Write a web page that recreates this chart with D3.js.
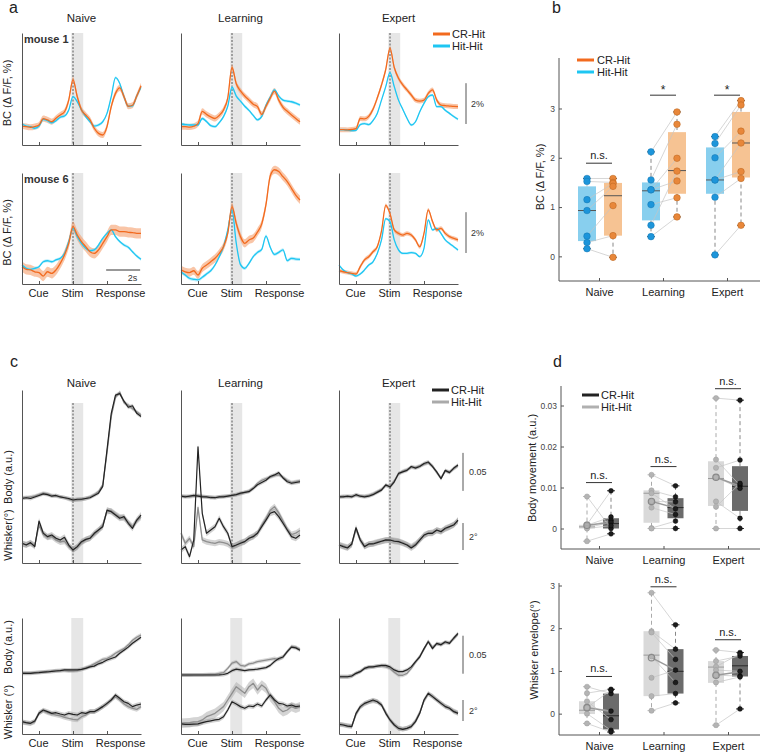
<!DOCTYPE html>
<html>
<head>
<meta charset="utf-8">
<script src="https://cdn.jsdelivr.net/npm/d3@7"></script>
<style>
  body { margin: 0; background: #fff; }
</style>
</head>
<body>
<svg id="fig" width="764" height="752"></svg>
<script>
// ---- shared categories ----
const times = [0,0.25,0.5,0.75,1,1.25,1.5,1.75,2,2.25,2.5,2.75,3,3.25,3.5,3.75,4,4.25,4.5,4.75,5,5.25,5.5,5.75,6,6.25,6.5,6.75,7];
const stages = ["Naive", "Learning", "Expert"];
const eventTimes = [1, 3, 5];
const eventLabels = ["Cue", "Stim", "Response"];
const stimWindow = [2.9, 3.6];

// ---- a: BC dF/F (%) traces, mouse 1 / mouse 6 ----
const bcM1NaiveCR  = [0.93,0.90,0.87,0.90,0.98,1.29,1.23,1.14,1.31,1.47,1.63,2.20,3.19,2.37,1.72,1.47,1.23,0.82,0.57,0.49,0.90,1.88,2.53,2.80,2.37,1.90,1.95,2.40,2.90];
const bcM1NaiveHit = [1.03,0.93,0.90,0.82,0.93,1.26,1.19,1.09,1.19,1.36,1.42,1.72,2.37,2.12,1.72,1.39,1.14,0.93,0.98,1.14,1.55,2.37,3.30,3.02,2.37,1.90,1.92,2.40,2.83];
const bcM1LearnCR  = [0.90,0.90,0.88,0.92,1.05,1.65,1.50,1.38,1.30,1.45,1.72,2.30,3.80,3.00,2.65,2.40,2.20,2.00,1.88,1.50,1.90,2.30,2.64,2.20,1.85,1.65,1.47,1.30,1.14];
const bcM1LearnHit = [1.03,1.00,0.98,0.98,0.98,1.30,1.15,0.95,0.90,1.10,1.39,1.90,2.83,2.40,2.15,1.90,1.70,1.45,1.23,1.40,1.95,2.35,2.70,2.40,2.20,2.15,2.12,2.05,1.96];
const bcM1ExpCR    = [0.75,0.75,0.74,0.76,0.80,1.30,1.28,1.40,1.75,2.30,2.94,3.70,4.74,3.80,3.27,2.95,2.70,2.45,2.20,2.15,2.20,2.53,2.70,2.20,1.96,1.93,1.91,1.89,1.88];
const bcM1ExpHit   = [0.75,0.75,0.73,0.70,0.72,1.00,1.05,1.00,1.20,1.55,2.20,2.86,3.55,2.86,2.20,1.75,1.31,0.98,1.14,1.63,2.04,2.37,2.45,1.88,1.88,1.70,1.55,1.40,1.26];
const bcM6NaiveCR  = [0.85,0.72,0.69,0.60,0.56,0.39,0.60,0.52,0.69,1.01,1.42,1.99,2.81,2.40,2.08,1.83,1.58,1.50,1.67,1.99,2.32,2.65,2.65,2.57,2.57,2.53,2.52,2.48,2.48];
const bcM6NaiveHit = [0.93,0.77,0.72,0.77,0.85,1.09,1.14,1.09,1.18,1.26,1.50,2.08,2.73,2.32,1.99,1.75,1.63,1.67,1.91,2.24,2.48,2.65,2.32,2.08,1.91,1.80,1.58,1.37,1.21];
const bcM6LearnCR  = [0.69,0.60,0.56,0.65,0.44,0.77,0.93,1.09,1.26,1.50,1.83,2.48,3.79,2.97,2.32,1.99,2.16,2.25,2.55,2.95,3.90,5.30,5.60,5.51,5.26,5.02,4.69,4.36,4.12];
const bcM6LearnHit = [0.60,0.44,0.28,0.23,0.20,0.33,0.49,0.65,0.93,1.34,1.83,2.65,3.63,2.00,0.95,0.77,1.01,1.34,1.55,1.70,2.35,1.80,1.45,1.55,1.67,1.15,1.26,1.22,1.21];
const bcM6ExpCR    = [0.65,0.60,0.56,0.52,0.49,0.85,1.18,1.34,1.58,1.83,2.60,3.85,3.45,2.65,2.48,2.40,2.48,2.40,2.16,1.83,2.48,3.63,3.06,2.65,2.73,2.48,2.32,2.24,2.16];
const bcM6ExpHit   = [0.93,0.69,0.56,0.49,0.39,0.49,0.69,0.93,1.09,1.50,2.16,3.20,3.06,2.16,1.67,1.50,1.50,1.54,1.50,1.34,1.75,3.14,2.65,2.73,2.48,2.16,1.99,1.83,1.67];
const bcSemCR  = [[0.15,0.15,0.12],[0.25,0.2,0.1]];
const bcSemHit = [[0.07,0.07,0.06],[0.07,0.08,0.06]];

// ---- b: BC per mouse ----
const bcHitNaive = [1.58,1.52,1.15,0.93,0.41,0.28,0.155];
const bcCRNaive  = [1.58,1.50,1.48,1.42,1.03,0.42,-0.02];
const bcHitLearn = [2.12,1.55,1.35,1.35,1.05,0.63,0.40];
const bcCRLearn  = [2.93,2.68,1.99,1.53,1.19,1.73,0.80];
const bcHitExp   = [2.43,2.29,2.00,1.55,1.55,1.20,0.03];
const bcCRExp    = [3.16,3.07,2.54,2.30,1.72,1.58,0.63];
const bcBoxHit = [[0.31,0.93,1.42],[0.73,1.33,1.50],[1.27,1.55,2.21]];   // q1, median, q3
const bcBoxCR  = [[0.42,1.23,1.49],[1.27,1.74,2.52],[1.60,2.30,2.93]];
const bcSig = ["n.s.", "*", "*"];
const bcSigLevel = [1.89, 3.27, 3.27];

// ---- c: body (a.u.) and whisker (deg) traces ----
const cNaiveBodyCR   = [0.002,0.003,0.002,0.004,0.006,0.008,0.007,0.005,0.006,0.004,0.003,0.002,0.000,0.001,0.001,0.002,0.003,0.006,0.009,0.018,0.066,0.114,0.138,0.140,0.130,0.122,0.124,0.114,0.110];
const cNaiveBodyHit  = [0.003,0.003,0.004,0.005,0.007,0.009,0.008,0.006,0.005,0.004,0.003,0.001,0.000,0.000,0.001,0.002,0.004,0.007,0.011,0.020,0.062,0.110,0.135,0.142,0.128,0.125,0.120,0.116,0.112];
const cNaiveWhiskCR  = [0.35,0.22,0.40,0.10,2.00,1.10,0.84,0.96,0.72,0.59,0.79,0.22,-0.15,0.10,0.47,0.64,0.72,1.09,1.33,1.58,2.81,2.69,2.44,2.20,2.32,1.83,1.46,2.07,2.44];
const cNaiveWhiskHit = [0.30,0.25,0.35,0.20,1.70,1.00,0.80,0.85,0.60,0.45,0.50,0.10,-0.10,0.05,0.40,0.60,0.75,1.00,1.30,1.70,2.70,2.75,2.50,2.30,2.20,1.90,1.60,2.00,2.30];
const cLearnBodyCR   = [0.005,0.004,0.005,0.006,0.005,0.004,0.004,0.003,0.003,0.004,0.004,0.005,0.006,0.007,0.009,0.010,0.011,0.015,0.020,0.023,0.026,0.031,0.033,0.036,0.029,0.024,0.022,0.023,0.024];
const cLearnBodyHit  = [0.005,0.005,0.004,0.005,0.006,0.005,0.004,0.004,0.003,0.004,0.005,0.005,0.006,0.007,0.008,0.010,0.012,0.016,0.022,0.026,0.028,0.030,0.032,0.033,0.030,0.026,0.023,0.024,0.025];
const cLearnWhiskCR  = [-0.15,0.10,-0.64,0.59,7.50,2.57,1.09,1.33,1.58,2.20,1.58,1.09,0.10,0.22,0.35,0.47,0.72,0.84,1.09,1.58,2.07,2.57,2.69,2.32,1.83,1.33,0.84,0.72,0.96];
const cLearnWhiskHit = [1.09,0.35,0.70,0.10,3.00,0.60,0.47,0.40,0.35,0.45,0.40,0.30,0.05,0.20,0.40,0.50,0.70,0.90,1.10,1.70,2.20,2.80,3.06,2.60,2.00,1.40,1.00,1.10,1.30];
const cExpBodyCR     = [0.004,0.004,0.005,0.004,0.007,0.005,0.004,0.005,0.007,0.010,0.013,0.020,0.017,0.024,0.035,0.037,0.039,0.044,0.042,0.044,0.048,0.050,0.044,0.037,0.028,0.039,0.036,0.042,0.046];
const cExpBodyHit    = [0.004,0.005,0.004,0.005,0.006,0.005,0.005,0.006,0.008,0.011,0.014,0.019,0.018,0.025,0.034,0.038,0.040,0.043,0.043,0.045,0.047,0.049,0.045,0.036,0.029,0.038,0.037,0.041,0.045];
const cExpWhiskCR    = [0.22,0.10,0.00,0.30,1.50,0.59,0.10,0.30,0.30,0.40,0.50,0.60,0.59,0.50,0.47,0.35,0.22,0.00,0.22,0.59,0.96,1.09,1.09,1.33,1.20,1.46,1.58,1.70,2.07];
const cExpWhiskHit   = [0.25,0.15,0.05,0.25,1.40,0.60,0.15,0.25,0.35,0.45,0.50,0.55,0.60,0.55,0.50,0.40,0.25,0.10,0.30,0.60,0.90,1.10,1.15,1.30,1.25,1.40,1.55,1.75,2.00];

const cNaiveBody2CR   = [0.0035,0.0035,0.0035,0.004,0.0044,0.005,0.0053,0.006,0.0066,0.007,0.008,0.008,0.008,0.008,0.0088,0.010,0.012,0.013,0.016,0.018,0.021,0.023,0.025,0.030,0.034,0.038,0.043,0.047,0.051];
const cNaiveBody2Hit  = [0.0044,0.004,0.004,0.0045,0.005,0.005,0.006,0.006,0.007,0.007,0.007,0.0066,0.0066,0.007,0.0088,0.011,0.013,0.016,0.019,0.022,0.023,0.026,0.030,0.033,0.036,0.041,0.047,0.051,0.054];
const cNaiveWhisk2CR  = [0.32,0.22,0.16,0.38,1.11,1.43,1.27,1.11,1.17,1.05,0.95,1.11,1.02,0.95,1.17,1.11,1.27,1.27,1.49,1.75,2.06,2.38,2.86,2.54,2.22,2.06,1.75,1.90,2.00];
const cNaiveWhisk2Hit = [0.25,0.20,0.16,0.30,1.17,1.36,1.17,1.05,0.95,0.86,0.73,0.63,0.54,0.48,0.79,0.95,1.27,1.27,1.49,1.75,2.00,2.38,2.70,2.38,2.00,1.75,1.59,1.49,1.75];
const cLearnBody2CR   = [0.0013,0.0013,0.0013,0.0013,0.0013,0.0013,0.0013,0.0013,0.0013,0.0015,0.002,0.0035,0.007,0.009,0.008,0.007,0.008,0.0085,0.009,0.010,0.011,0.014,0.019,0.023,0.025,0.032,0.038,0.037,0.034];
const cLearnBody2Hit  = [0.0013,0.0013,0.0013,0.0015,0.0015,0.0016,0.0018,0.002,0.0022,0.0035,0.0044,0.010,0.017,0.019,0.014,0.013,0.016,0.017,0.019,0.020,0.021,0.022,0.023,0.022,0.025,0.032,0.039,0.038,0.035];
const cLearnWhisk2CR  = [0.10,0.06,0.06,0.08,0.10,0.22,0.32,0.40,0.48,0.54,0.79,1.43,2.22,2.00,1.75,1.59,1.81,1.75,2.00,1.81,2.38,2.86,2.38,2.06,2.00,1.81,1.90,1.75,1.81];
const cLearnWhisk2Hit = [0.16,0.20,0.22,0.30,0.32,0.48,0.79,0.95,1.11,1.43,1.75,2.38,3.02,3.65,3.33,3.02,3.65,3.97,3.33,3.81,3.49,2.70,2.22,1.59,1.27,1.43,1.75,1.59,1.75];
const cExpBody2CR     = [-0.001,-0.001,-0.001,0.000,0.0035,0.0057,0.010,0.012,0.012,0.013,0.014,0.014,0.012,0.008,0.0057,0.0057,0.008,0.012,0.019,0.025,0.036,0.045,0.036,0.043,0.041,0.045,0.043,0.050,0.056];
const cExpBody2Hit    = [-0.001,-0.001,-0.001,0.000,0.0035,0.006,0.010,0.011,0.012,0.013,0.013,0.012,0.010,0.005,0.001,0.001,0.0035,0.010,0.018,0.026,0.035,0.046,0.038,0.042,0.042,0.044,0.044,0.049,0.055];
const cExpWhisk2CR    = [0.06,0.00,-0.10,-0.16,1.11,1.75,2.06,2.22,2.38,2.22,1.90,1.11,0.48,0.00,-0.32,-0.41,-0.32,-0.16,0.32,1.11,2.38,3.02,2.70,2.38,2.06,1.75,1.59,1.27,1.11];
const cExpWhisk2Hit   = [0.10,0.03,-0.05,-0.10,1.00,1.70,2.00,2.20,2.30,2.25,1.95,1.20,0.50,0.05,-0.30,-0.38,-0.30,-0.10,0.40,1.20,2.30,2.95,2.75,2.40,2.10,1.80,1.60,1.35,1.15];

// ---- d: body movement / whisker envelope per mouse ----
const bodyHitNaive = [0.0078,0.0010,0.0008,0.0006,0.0002,0.0000,-0.0031];
const bodyCRNaive  = [0.0000,0.0092,0.0028,0.0020,0.0015,0.0007,-0.0013];
const bodyHitLearn = [0.0131,0.0093,0.0086,0.0066,0.0051,0.0001,0.0000];
const bodyCRLearn  = [0.0104,0.0077,0.0048,0.0065,0.0034,0.0018,0.0000];
const bodyHitExp   = [0.0318,0.0168,0.0148,0.0125,0.0066,0.0053,0.0000];
const bodyCRExp    = [0.0313,0.0105,0.0167,0.0098,0.0025,0.0110,0.0000];
const bodyBoxHit = [[0.0000,0.0004,0.0009],[0.0014,0.0086,0.0093],[0.0055,0.0122,0.0164]];
const bodyBoxCR  = [[0.0000,0.0012,0.0025],[0.0025,0.0051,0.0074],[0.0043,0.0103,0.0152]];
const bodyMeanHit = [0.0008,0.0066,0.0125];
const bodyMeanCR  = [0.0015,0.0050,0.0103];
const bodySig = ["n.s.", "n.s.", "n.s."];
const bodySigLevel = [0.0112, 0.0151, 0.0341];

const whiskHitNaive = [0.63,0.48,0.29,0.16,0.14,0.00,-0.23];
const whiskCRNaive  = [0.47,0.57,-0.14,0.06,0.55,-0.39,-0.43];
const whiskHitLearn = [2.83,1.93,1.90,1.34,0.84,0.41,0.07];
const whiskCRLearn  = [2.08,1.51,1.27,0.73,1.02,0.47,0.25];
const whiskHitExp   = [1.49,1.23,1.10,1.02,0.90,0.73,-0.27];
const whiskCRExp    = [1.43,1.35,1.40,0.99,0.88,0.86,0.11];
const whiskBoxHit = [[-0.01,0.08,0.29],[0.41,1.37,1.93],[0.72,1.09,1.23]];
const whiskBoxCR  = [[-0.37,-0.05,0.47],[0.47,0.99,1.51],[0.87,1.12,1.35]];
const whiskMeanHit = [0.14,1.31,0.90];
const whiskMeanCR  = [0.05,1.02,0.98];
const whiskSig = ["n.s.", "n.s.", "n.s."];
const whiskSigLevel = [0.87, 2.97, 1.73];

// ---- drawing ----
const FONT = '"Liberation Sans", Arial, Helvetica, sans-serif';
const AX = "#555";
const ORANGE = "#f26a1e", CYAN = "#1ec6f2";
const DARK = "#222", GREY = "#8e8e8e";
const svg = d3.select("#fig").attr("font-family", FONT);

const COLX = [22, 181, 339];
const PW = 119;
const tScale = c => d3.scaleLinear().domain([0, 7]).range([COLX[c], COLX[c] + PW]);

function txt(x, y, s, size, opts) {
  opts = opts || {};
  const t = svg.append("text").attr("x", x).attr("y", y).text(s)
    .attr("font-size", size).attr("fill", opts.fill || "#222")
    .attr("text-anchor", opts.anchor || "start");
  if (opts.bold) t.attr("font-weight", "bold");
  if (opts.rotate) t.attr("transform", `rotate(-90,${x},${y})`);
  return t;
}

function styleAxis(a) {
  a.attr("font-family", FONT);
  a.select(".domain").attr("stroke", AX);
  a.selectAll(".tick line").attr("stroke", AX);
  a.selectAll(".tick text").attr("fill", "#222");
}

function eventAxes(c, top, bottom, labels) {
  const x = tScale(c);
  const ax = d3.axisBottom(x).tickValues(eventTimes).tickSize(-3).tickSizeOuter(0).tickPadding(5)
    .tickFormat((d, i) => labels ? eventLabels[i] : "");
  const a = svg.append("g").attr("transform", `translate(0,${bottom})`).call(ax);
  styleAxis(a);
  // "Response" label sits to the right of its tick in the original
  a.selectAll(".tick text").attr("font-size", 11).attr("dx", (d, i) => i === 2 ? 13 : -1);
  const yl = d3.scaleLinear().range([bottom, top]);
  const b = svg.append("g").attr("transform", `translate(${COLX[c]},0)`)
    .call(d3.axisLeft(yl).tickValues([]).tickSizeOuter(0));
  styleAxis(b);
}

function stimMarks(c, shadeTop, bottom, dashTop) {
  const x = tScale(c);
  svg.append("rect").attr("x", x(stimWindow[0])).attr("y", shadeTop)
    .attr("width", x(stimWindow[1]) - x(stimWindow[0])).attr("height", bottom - shadeTop)
    .attr("fill", "#e6e6e6");
  if (dashTop !== null) {
    svg.append("line").attr("x1", x(3)).attr("x2", x(3)).attr("y1", dashTop).attr("y2", bottom)
      .attr("stroke", "#333").attr("stroke-width", 0.8).attr("stroke-dasharray", "2,1.5");
  }
}

function trace(x, y, vals, sem, band, curve) {
  const pts = times.map((t, i) => [t, vals[i]]);
  svg.append("path").datum(pts).attr("fill", band)
    .attr("d", d3.area().x(d => x(d[0])).y0(d => y(d[1] - sem)).y1(d => y(d[1] + sem)).curve(curve));
  return pts;
}
function traceLine(x, y, pts, color, w, curve) {
  svg.append("path").datum(pts).attr("fill", "none").attr("stroke", color).attr("stroke-width", w)
    .attr("stroke-linejoin", "round")
    .attr("d", d3.line().x(d => x(d[0])).y(d => y(d[1])).curve(curve));
}

// panel letters
txt(9, 13, "a", 16);
txt(552, 13, "b", 16);
txt(10, 367, "c", 16);
txt(553, 367, "d", 16);

// ----- panel a -----
const bcRows = [
  { label: "mouse 1", top: 33, bottom: 145, cr: [bcM1NaiveCR, bcM1LearnCR, bcM1ExpCR], hit: [bcM1NaiveHit, bcM1LearnHit, bcM1ExpHit] },
  { label: "mouse 6", top: 173, bottom: 284, cr: [bcM6NaiveCR, bcM6LearnCR, bcM6ExpCR], hit: [bcM6NaiveHit, bcM6LearnHit, bcM6ExpHit] }
];
stages.forEach((s, c) => txt(COLX[c] + PW / 2, 22, s, 11.5, { anchor: "middle" }));
bcRows.forEach((row, r) => {
  const y = d3.scaleLinear().domain([0, 5.5]).range([row.bottom, row.bottom - 112.2]);
  stages.forEach((s, c) => {
    const x = tScale(c);
    stimMarks(c, row.top, row.bottom, row.top);
    const pc = trace(x, y, row.cr[c], bcSemCR[r][c], "rgba(244,150,95,0.55)", d3.curveMonotoneX);
    const ph = trace(x, y, row.hit[c], bcSemHit[r][c], "rgba(140,225,248,0.6)", d3.curveMonotoneX);
    traceLine(x, y, ph, CYAN, 1.3, d3.curveMonotoneX);
    traceLine(x, y, pc, ORANGE, 1.3, d3.curveMonotoneX);
    eventAxes(c, row.top, row.bottom, r === 1);
  });
  txt(24, row.top + 10, row.label, 11, { bold: true, fill: "#333" });
  txt(11, (row.top + row.bottom) / 2 + 4, "BC (\u0394 F/F, %)", 11, { anchor: "middle", rotate: true });
  // 2% scale bar
  svg.append("line").attr("x1", 466).attr("x2", 466)
    .attr("y1", y(r === 0 ? 1.03 : 1.52)).attr("y2", y(r === 0 ? 3.03 : 3.52))
    .attr("stroke", AX).attr("stroke-width", 1);
  txt(471, y(r === 0 ? 2.03 : 2.52) + 3, "2%", 9, { fill: "#333" });
});
// 2s scale bar (mouse 6 naive)
{
  const x = tScale(0);
  svg.append("line").attr("x1", x(4.95)).attr("x2", x(6.95)).attr("y1", 270).attr("y2", 270)
    .attr("stroke", "#333").attr("stroke-width", 1);
  txt(x(6.5), 281, "2s", 9, { anchor: "middle", fill: "#333" });
}
// legend a
[["CR-Hit", ORANGE, 34], ["Hit-Hit", CYAN, 46]].forEach(([lab, col, yy]) => {
  svg.append("line").attr("x1", 433).attr("x2", 450).attr("y1", yy).attr("y2", yy)
    .attr("stroke", col).attr("stroke-width", 3);
  txt(452, yy + 4, lab, 11);
});

// ----- paired box plot helper (panels b, d) -----
function boxplot(xc, y, vals, stats, o) {
  const [q1, med, q3] = stats;
  const [lo, hi] = d3.extent(vals);
  [[hi, q3], [q1, lo]].forEach(([a, b]) => {
    svg.append("line").attr("x1", xc).attr("x2", xc).attr("y1", y(a)).attr("y2", y(b))
      .attr("stroke", o.whisk).attr("stroke-width", 1).attr("stroke-dasharray", "4,3");
  });
  [lo, hi].forEach(v => svg.append("line").attr("x1", xc - 4).attr("x2", xc + 4)
    .attr("y1", y(v)).attr("y2", y(v)).attr("stroke", o.cap).attr("stroke-width", 1));
  svg.append("rect").attr("x", xc - o.w / 2).attr("y", y(q3)).attr("width", o.w)
    .attr("height", y(q1) - y(q3)).attr("fill", o.fill);
  svg.append("line").attr("x1", xc - o.w / 2).attr("x2", xc + o.w / 2).attr("y1", y(med)).attr("y2", y(med))
    .attr("stroke", o.med).attr("stroke-width", 1);
}

function pairedPanel(cfg) {
  const { x, y, left, right, leftBox, rightBox, offL, offR, sL, sR, sig, sigLevel } = cfg;
  stages.forEach((s, i) => {
    const xl = x(s) + offL, xr = x(s) + offR;
    boxplot(xl, y, left[i], leftBox[i], sL);
    boxplot(xr, y, right[i], rightBox[i], sR);
    left[i].forEach((v, k) => {
      svg.append("line").attr("x1", xl).attr("x2", xr).attr("y1", y(v)).attr("y2", y(right[i][k]))
        .attr("stroke", "#c4c4c4").attr("stroke-width", 0.7);
    });
    if (cfg.meanL) {
      svg.append("line").attr("x1", xl).attr("x2", xr).attr("y1", y(cfg.meanL[i])).attr("y2", y(cfg.meanR[i]))
        .attr("stroke", "#9a9a9a").attr("stroke-width", 1.4);
    }
    left[i].forEach(v => svg.append("circle").attr("cx", xl).attr("cy", y(v)).attr("r", sL.r)
      .attr("fill", sL.pt).attr("stroke", sL.ptStroke).attr("stroke-width", 0.5));
    right[i].forEach(v => svg.append("circle").attr("cx", xr).attr("cy", y(v)).attr("r", sR.r)
      .attr("fill", sR.pt).attr("stroke", sR.ptStroke).attr("stroke-width", 0.5));
    if (cfg.meanL) {
      svg.append("circle").attr("cx", xl).attr("cy", y(cfg.meanL[i])).attr("r", 3.2)
        .attr("fill", "none").attr("stroke", "#888").attr("stroke-width", 1.2);
    }
    // significance
    const ys = y(sigLevel[i]);
    svg.append("line").attr("x1", x(s) - 13).attr("x2", x(s) + 13).attr("y1", ys).attr("y2", ys)
      .attr("stroke", "#333").attr("stroke-width", 1);
    txt(x(s), sig[i] === "*" ? ys - 1 : ys - 4, sig[i], sig[i] === "*" ? 12 : 11, { anchor: "middle" });
  });
}

function catAxes(x, y, x0, yTop, yBot, ticks, fmt) {
  const ay = svg.append("g").attr("transform", `translate(${x0},0)`)
    .call(d3.axisLeft(y).tickValues(ticks).tickFormat(fmt).tickSize(-3).tickSizeOuter(0).tickPadding(4));
  styleAxis(ay);
  ay.select(".domain").attr("d", `M0,${yBot}V${yTop}`);
  ay.selectAll(".tick text").attr("font-size", 8.5).attr("fill", "#444");
  const ax = svg.append("g").attr("transform", `translate(0,${yBot})`)
    .call(d3.axisBottom(x).tickSize(-3).tickSizeOuter(0).tickPadding(7));
  styleAxis(ax);
  ax.select(".domain").attr("d", `M${x0},0H760`);
  ax.selectAll(".tick text").attr("font-size", 11);
}

// ----- panel b -----
{
  const x = d3.scalePoint().domain(stages).range([599, 727]);
  const y = d3.scaleLinear().domain([-0.5, 4]).range([281, 59.2]);
  catAxes(x, y, 559, 58, 281, [0, 1, 2, 3], d3.format("d"));
  pairedPanel({
    x, y, left: [bcHitNaive, bcHitLearn, bcHitExp], right: [bcCRNaive, bcCRLearn, bcCRExp],
    leftBox: bcBoxHit, rightBox: bcBoxCR, offL: -12, offR: 14,
    sL: { w: 18, fill: "#88cfee", med: "#555", whisk: "#888", cap: "#555", r: 3.3, pt: "#1d95da", ptStroke: "#1576b0" },
    sR: { w: 18, fill: "#f6c393", med: "#555", whisk: "#888", cap: "#555", r: 3.3, pt: "#e8873a", ptStroke: "#b8651f" },
    sig: bcSig, sigLevel: bcSigLevel
  });
  txt(544, 177, "BC (\u0394 F/F, %)", 11, { anchor: "middle", rotate: true });
  [["CR-Hit", ORANGE, 60], ["Hit-Hit", CYAN, 72]].forEach(([lab, col, yy]) => {
    svg.append("line").attr("x1", 577).attr("x2", 594).attr("y1", yy).attr("y2", yy)
      .attr("stroke", col).attr("stroke-width", 3);
    txt(597, yy + 4, lab, 11);
  });
}

// ----- panel c -----
const cBlocks = [
  { top: 390, bottom: 563, shadeTop: 403, dashTop: 403, bodyZero: 500, whiskZero: 548, whiskPx: 13.5, labels: false,
    bodyCR: [cNaiveBodyCR, cLearnBodyCR, cExpBodyCR], bodyHit: [cNaiveBodyHit, cLearnBodyHit, cExpBodyHit],
    whCR: [cNaiveWhiskCR, cLearnWhiskCR, cExpWhiskCR], whHit: [cNaiveWhiskHit, cLearnWhiskHit, cExpWhiskHit],
    bodyLab: ["Body (a.u.)", 477], whLab: ["Whisker(\u00b0)", 535], barBody: 0.012, barWh: -0.15 },
  { top: 618, bottom: 734, shadeTop: 618, dashTop: null, bodyZero: 676, whiskZero: 725, whiskPx: 10.5, labels: true,
    bodyCR: [cNaiveBody2CR, cLearnBody2CR, cExpBody2CR], bodyHit: [cNaiveBody2Hit, cLearnBody2Hit, cExpBody2Hit],
    whCR: [cNaiveWhisk2CR, cLearnWhisk2CR, cExpWhisk2CR], whHit: [cNaiveWhisk2Hit, cLearnWhisk2Hit, cExpWhisk2Hit],
    bodyLab: ["Body (a.u.)", 647], whLab: ["Whisker (\u00b0)", 712], barBody: 0.003, barWh: 0.38 }
];
stages.forEach((s, c) => txt(COLX[c] + PW / 2, 387, s, 11.5, { anchor: "middle" }));
cBlocks.forEach((b, bi) => {
  const yb = d3.scaleLinear().domain([0, 0.05]).range([b.bodyZero, b.bodyZero - 38]);
  const yw = d3.scaleLinear().domain([0, 2]).range([b.whiskZero, b.whiskZero - 2 * b.whiskPx]);
  stages.forEach((s, c) => {
    const x = tScale(c);
    stimMarks(c, b.shadeTop, b.bottom, b.dashTop);
    const whSemHit = (bi === 1 && c === 1) ? 0.45 : 0.22;
    const p1 = trace(x, yb, b.bodyHit[c], 0.0025, "rgba(170,170,170,0.45)", d3.curveLinear);
    const p2 = trace(x, yb, b.bodyCR[c], 0.0025, "rgba(120,120,120,0.35)", d3.curveLinear);
    const p3 = trace(x, yw, b.whHit[c], whSemHit, "rgba(170,170,170,0.5)", d3.curveLinear);
    const p4 = trace(x, yw, b.whCR[c], 0.22, "rgba(120,120,120,0.35)", d3.curveLinear);
    traceLine(x, yb, p1, GREY, 1.3, d3.curveLinear);
    traceLine(x, yw, p3, GREY, 1.3, d3.curveLinear);
    traceLine(x, yb, p2, DARK, 1.2, d3.curveLinear);
    traceLine(x, yw, p4, DARK, 1.2, d3.curveLinear);
    eventAxes(c, b.top, b.bottom, b.labels);
  });
  txt(12, b.bodyLab[1], b.bodyLab[0], 11, { anchor: "middle", rotate: true });
  txt(12, b.whLab[1], b.whLab[0], 11, { anchor: "middle", rotate: true });
  // scale bars
  svg.append("line").attr("x1", 463).attr("x2", 463).attr("y1", yb(b.barBody)).attr("y2", yb(b.barBody + 0.05))
    .attr("stroke", AX).attr("stroke-width", 1);
  txt(469, yb(b.barBody + 0.025) + 3, "0.05", 9, { fill: "#333" });
  svg.append("line").attr("x1", 463).attr("x2", 463).attr("y1", yw(b.barWh)).attr("y2", yw(b.barWh + 2))
    .attr("stroke", AX).attr("stroke-width", 1);
  txt(469, yw(b.barWh + 1) + 3, "2\u00b0", 9, { fill: "#333" });
});
[["CR-Hit", DARK, 390], ["Hit-Hit", "#aaa", 402]].forEach(([lab, col, yy]) => {
  svg.append("line").attr("x1", 432).attr("x2", 449).attr("y1", yy).attr("y2", yy)
    .attr("stroke", col).attr("stroke-width", 3);
  txt(451, yy + 4, lab, 11);
});

// ----- panel d -----
const dLight = { w: 16, fill: "#d9d9d9", med: "#9a9a9a", whisk: "#aaa", cap: "#bbb", r: 2.6, pt: "#b4b4b4", ptStroke: "#9c9c9c" };
const dDark  = { w: 16, fill: "#6b6b6b", med: "#2a2a2a", whisk: "#888", cap: "#333", r: 2.4, pt: "#1c1c1c", ptStroke: "#000" };
{
  const x = d3.scalePoint().domain(stages).range([599, 728]);
  const y = d3.scaleLinear().domain([-0.005, 0.035]).range([549, 385]);
  catAxes(x, y, 561, 386, 549, [0, 0.01, 0.02, 0.03], d => d === 0 ? "0" : d3.format(".2f")(d));
  pairedPanel({
    x, y, left: [bodyHitNaive, bodyHitLearn, bodyHitExp], right: [bodyCRNaive, bodyCRLearn, bodyCRExp],
    leftBox: bodyBoxHit, rightBox: bodyBoxCR, offL: -12, offR: 12, sL: dLight, sR: dDark,
    meanL: bodyMeanHit, meanR: bodyMeanCR, sig: bodySig, sigLevel: bodySigLevel
  });
  txt(536, 468, "Body movement (a.u.)", 11, { anchor: "middle", rotate: true });
  [["CR-Hit", DARK, 395], ["Hit-Hit", "#b0b0b0", 407]].forEach(([lab, col, yy]) => {
    svg.append("line").attr("x1", 582).attr("x2", 599).attr("y1", yy).attr("y2", yy)
      .attr("stroke", col).attr("stroke-width", 3);
    txt(601, yy + 4, lab, 11);
  });
}
{
  const x = d3.scalePoint().domain(stages).range([599, 728]);
  const y = d3.scaleLinear().domain([-0.5, 3]).range([735, 585.5]);
  catAxes(x, y, 559, 583, 735, [0, 1, 2, 3], d3.format("d"));
  pairedPanel({
    x, y, left: [whiskHitNaive, whiskHitLearn, whiskHitExp], right: [whiskCRNaive, whiskCRLearn, whiskCRExp],
    leftBox: whiskBoxHit, rightBox: whiskBoxCR, offL: -12, offR: 12, sL: dLight, sR: dDark,
    meanL: whiskMeanHit, meanR: whiskMeanCR, sig: whiskSig, sigLevel: whiskSigLevel
  });
  txt(538, 650, "Whisker envelope(\u00b0)", 11, { anchor: "middle", rotate: true });
}
</script>
</body>
</html>
